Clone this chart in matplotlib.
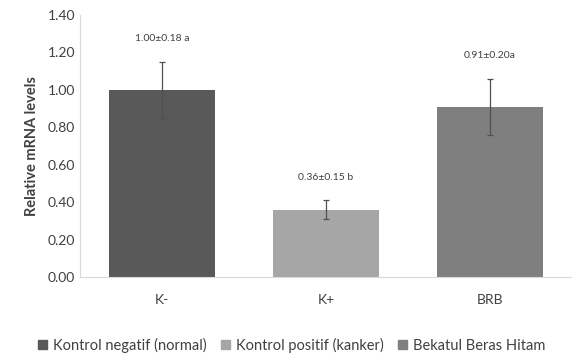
import matplotlib
matplotlib.use('Agg')
import matplotlib.pyplot as plt
from matplotlib.patches import Patch

groups = ['K-', 'K+', 'BRB']
values = [1.00, 0.36, 0.91]
errors = [0.15, 0.05, 0.15]
labels = ['1.00±0.18 a', '0.36±0.15 b', '0.91±0.20a']
legend_names = ['Kontrol negatif (normal)', 'Kontrol positif (kanker)', 'Bekatul Beras Hitam']
colors = ['#595959', '#a6a6a6', '#7f7f7f']

plt.rcParams['font.family'] = ['Lato', 'DejaVu Sans']

fig = plt.figure(figsize=(5.72, 3.64), dpi=100)
ax = fig.add_axes([0.14, 0.239, 0.86, 0.72])

x = range(len(groups))
ax.bar(x, values, width=0.65, color=colors,
       yerr=errors, capsize=2.5, error_kw=dict(ecolor='#505050', elinewidth=0.9, capthick=0.9))

for i, txt in enumerate(labels):
    ax.text(i, values[i] + errors[i] + 0.1, txt, ha='center', va='bottom',
            fontsize=7.5, color='#404040')

ax.set_ylim(0, 1.4)
ax.set_xlim(-0.5, 2.5)
ax.set_yticks([i * 0.2 for i in range(8)])
ax.set_yticklabels([f'{i * 0.2:.2f}' for i in range(8)])
ax.set_xticks(list(x))
ax.set_xticklabels(groups)
ax.tick_params(length=0, labelsize=10, colors='#404040')
ax.tick_params(axis='x', pad=12)
ax.set_ylabel('Relative mRNA levels', fontsize=10.5, fontweight='bold', color='#404040', labelpad=6)

for s in ['top', 'right']:
    ax.spines[s].set_visible(False)
ax.spines['left'].set_color('#d9d9d9')
ax.spines['bottom'].set_color('#d9d9d9')

handles = [Patch(color=c) for c in colors]
fig.legend(handles, legend_names, loc='lower center', bbox_to_anchor=(0.51, -0.005),
           ncol=3, frameon=False, fontsize=10.5, handlelength=0.6, handleheight=0.6,
           handletextpad=0.4, columnspacing=1.0, labelcolor='#404040')

plt.savefig('out.png')
